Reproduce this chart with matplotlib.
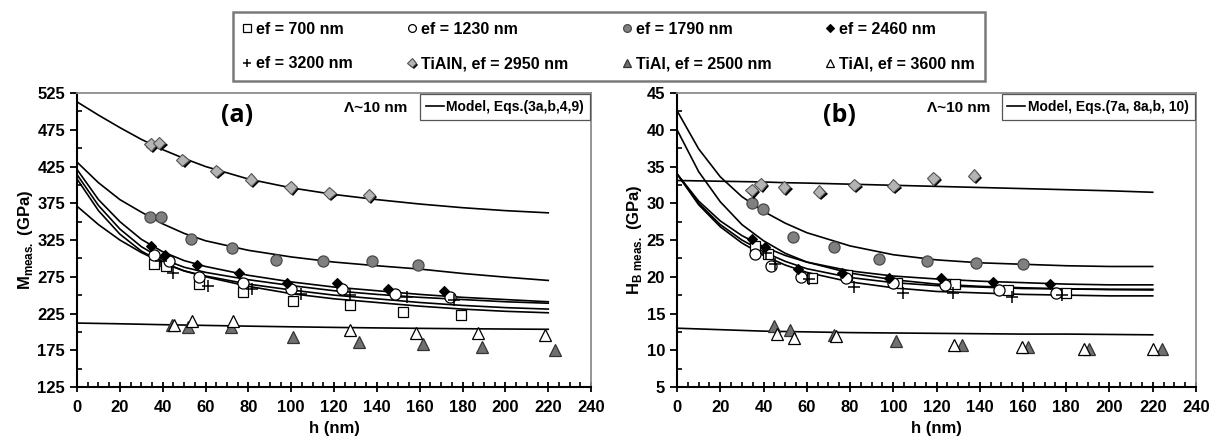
import matplotlib
matplotlib.use("Agg")
import matplotlib.pyplot as plt
import matplotlib.patheffects as pe
from matplotlib.lines import Line2D
from matplotlib.ticker import MultipleLocator, FixedLocator

plt.rcParams['font.family'] = ['Liberation Sans', 'DejaVu Sans']
plt.rcParams['font.weight'] = 'bold'
plt.rcParams['mathtext.fontset'] = 'custom'
plt.rcParams['mathtext.bf'] = 'Liberation Sans:bold'
plt.rcParams['mathtext.rm'] = 'Liberation Sans:bold'

# ---- data, panel (a): M_meas (GPa) vs h (nm) ----
a_sq_h = [35.8, 41.7, 56.9, 77.7, 100.6, 127.3, 152.2, 179.4]
a_sq_v = [293, 289, 265, 254, 242, 236, 227, 223]
a_oc_h = [35.8, 42.9, 56.9, 77.7, 99.8, 123.6, 148.4, 174.3]
a_oc_v = [305, 296, 275, 266, 258, 258, 251, 248]
a_gc_h = [34.0, 39.4, 53.0, 72.2, 92.9, 114.9, 137.5, 159.2]
a_gc_v = [357, 356, 326, 314, 298, 297, 297, 291]
a_bd_h = [34.5, 40.9, 56.1, 75.5, 97.8, 121.5, 145.3, 171.2]
a_bd_v = [317, 305, 291, 280, 267, 266, 258, 256]
a_pl_h = [39.4, 44.8, 61.0, 81.5, 104.5, 127.4, 154.0, 175.8]
a_pl_v = [297, 280, 263, 258, 252, 250, 247, 244]
a_td_h = [34.3, 38.3, 49.2, 65.0, 81.2, 99.8, 117.7, 136.3]
a_td_v = [455, 457, 434, 419, 407, 397, 389, 386]
a_gt_h = [44.5, 51.8, 72.0, 100.6, 131.6, 161.4, 189.0, 223.0]
a_gt_v = [209, 206, 206, 193.5, 186.7, 183.5, 179, 175]
a_wt_h = [45.1, 53.8, 72.7, 127.3, 158.3, 187.1, 218.7]
a_wt_v = [209.4, 214.7, 214.7, 202.5, 199, 199, 196]
a_yticks = [125, 175, 225, 275, 325, 375, 425, 475, 525]

# model curves, read at these h values
h_model = [0, 10, 20, 30, 40, 50, 60, 80, 100, 120, 140, 160, 180, 200, 220]
a_mod_tialn = [513, 495, 478, 462, 448, 436, 425, 408, 396, 387, 380, 374, 369, 365, 362]
a_mod_1790 = [431, 403, 380, 363, 347, 334, 324, 311, 302, 295, 290, 285.5, 279.5, 274.5, 270]
a_mod_2460 = [421, 380, 350, 326, 309, 297, 289, 277, 268, 261, 256, 251, 247, 244, 241]
a_mod_1230 = [414, 372, 340, 316, 299, 288, 281, 271, 263, 256, 251, 247, 244, 241, 239]
a_mod_3200 = [408, 365, 333, 310, 294, 283, 276, 265, 257, 250, 245, 240, 236, 233, 231]
a_mod_700 = [371, 346, 325, 308, 294, 283, 275, 262, 252, 245, 240, 235, 231, 228, 226]
a_mod_tial = [212, 211.5, 211, 210.4, 209.8, 209.3, 208.8, 207.8, 206.9, 206.1, 205.4, 204.8, 204.3, 203.9, 203.5]

# ---- data, panel (b): H_B meas (GPa) vs h (nm) ----
b_sq_h = [36.1, 42.2, 62.3, 78.8, 101.6, 128.6, 152.9, 180.0]
b_sq_v = [24.2, 23.1, 19.8, 20.3, 19.2, 19.0, 18.2, 17.85]
b_oc_h = [36.1, 43.3, 57.2, 78.1, 100.0, 123.9, 149.0, 175.3]
b_oc_v = [23.1, 21.4, 20.0, 19.8, 19.1, 18.9, 18.2, 17.8]
b_gc_h = [34.5, 39.9, 53.5, 72.6, 93.5, 115.7, 138.3, 160.2]
b_gc_v = [30.0, 29.2, 25.45, 24.0, 22.4, 22.1, 21.9, 21.7]
b_bd_h = [34.5, 40.7, 56.1, 76.1, 98.0, 121.9, 146.3, 172.5]
b_bd_v = [25.2, 24.1, 21.1, 20.5, 19.8, 19.9, 19.35, 19.0]
b_pl_h = [41.0, 45.3, 61.2, 82.0, 104.7, 127.5, 154.8, 177.9]
b_pl_v = [23.3, 21.7, 19.65, 18.65, 17.8, 17.85, 17.3, 17.5]
b_td_h = [34.5, 38.7, 49.5, 65.7, 82.0, 100.0, 118.5, 137.3]
b_td_v = [31.8, 32.6, 32.2, 31.6, 32.5, 32.4, 33.4, 33.75]
b_gt_h = [44.9, 52.3, 72.6, 101.3, 131.9, 162.5, 190.5, 224.4]
b_gt_v = [13.3, 12.7, 12.1, 11.2, 10.7, 10.4, 10.2, 10.2]
b_wt_h = [46.1, 54.1, 73.5, 128.0, 159.4, 188.2, 220.3]
b_wt_v = [12.2, 11.6, 11.95, 10.7, 10.4, 10.2, 10.2]
b_yticks = [5, 10, 15, 20, 25, 30, 35, 40, 45]

b_mod_tialn = [33.1, 33.05, 33.0, 32.95, 32.9, 32.8, 32.75, 32.6, 32.45, 32.3, 32.15, 32.0, 31.85, 31.7, 31.5]
b_mod_1790 = [42.6, 37.4, 33.6, 30.9, 28.9, 27.3, 26.0, 24.2, 23.0, 22.3, 21.9, 21.7, 21.5, 21.4, 21.4]
b_mod_2460 = [34.0, 30.3, 27.6, 25.6, 24.1, 22.9, 22.0, 20.8, 20.1, 19.7, 19.4, 19.2, 19.0, 18.9, 18.9]
b_mod_1230 = [34.0, 30.0, 27.1, 25.0, 23.4, 22.1, 21.1, 19.9, 19.2, 18.8, 18.6, 18.4, 18.35, 18.3, 18.3]
b_mod_3200 = [34.0, 29.8, 26.8, 24.6, 22.9, 21.6, 20.6, 19.3, 18.5, 18.0, 17.8, 17.6, 17.5, 17.4, 17.4]
b_mod_700 = [40.0, 34.3, 30.2, 27.1, 24.9, 23.2, 22.0, 20.5, 19.6, 19.0, 18.7, 18.5, 18.35, 18.25, 18.2]
b_mod_tial = [13.0, 12.9, 12.8, 12.7, 12.6, 12.55, 12.5, 12.4, 12.35, 12.3, 12.25, 12.2, 12.2, 12.15, 12.1]

legend_labels = ['ef = 700 nm', 'ef = 1230 nm', 'ef = 1790 nm', 'ef = 2460 nm',
                 'ef = 3200 nm', 'TiAlN, ef = 2950 nm', 'TiAl, ef = 2500 nm', 'TiAl, ef = 3600 nm']

shadow = [pe.SimplePatchShadow(offset=(1.5, -1.5), shadow_rgbFace='k', alpha=1.0), pe.Normal()]

# marker styles: square, open circle, grey circle, black diamond, plus, TiAlN, TiAl grey, TiAl open
styles = [
    dict(marker='s', mfc='white', mec='black', ms=7.5, mew=0.9),
    dict(marker='o', mfc='white', mec='black', ms=8, mew=0.9),
    dict(marker='o', mfc='#808080', mec='#4a4a4a', ms=8, mew=0.9),
    dict(marker='D', mfc='black', mec='black', ms=5.5, mew=0.8),
    dict(marker='+', mfc='none', mec='black', ms=8, mew=1.1),
    dict(marker='D', mfc='#b4b4b4', mec='#555555', ms=6.5, mew=0.8),
    dict(marker='^', mfc='#707070', mec='#333333', ms=8, mew=0.9),
    dict(marker='^', mfc='white', mec='black', ms=8, mew=0.9),
]


def draw_panel(ax, pts, models, ylim, yticks, ymin, ylabel, tag, model_label):
    for m in models:
        ax.plot(h_model, m, color='black', lw=1.2, zorder=2)
    for (h, v), st in zip(pts, styles):
        line, = ax.plot(h, v, ls='none', zorder=3, **st)
        if st['mfc'] == '#b4b4b4':
            line.set_path_effects(shadow)
    ax.set_xlim(0, 240)
    ax.set_ylim(*ylim)
    ax.xaxis.set_major_locator(MultipleLocator(20))
    ax.xaxis.set_minor_locator(MultipleLocator(5))
    ax.yaxis.set_major_locator(FixedLocator(yticks))
    ax.yaxis.set_minor_locator(MultipleLocator(ymin))
    ax.tick_params(axis='x', which='major', direction='inout', length=7, width=1.3, labelsize=12, pad=6)
    ax.tick_params(axis='x', which='minor', direction='in', length=3.5, width=1.2)
    ax.tick_params(axis='y', which='major', direction='out', length=5, width=1.3, labelsize=12)
    ax.tick_params(axis='y', which='minor', direction='in', length=3.5, width=1.2)
    for lab in ax.get_xticklabels() + ax.get_yticklabels():
        lab.set_fontweight('bold')
    ax.spines['left'].set_linewidth(1.5)
    ax.spines['bottom'].set_linewidth(1.5)
    for s in ('top', 'right'):
        ax.spines[s].set_color('#8c8c8c')
        ax.spines[s].set_linewidth(1.3)
    ax.set_xlabel('h (nm)', fontsize=12, fontweight='bold', labelpad=4)
    ax.set_ylabel(ylabel, fontsize=12, fontweight='bold', labelpad=2)
    ax.text(0.312, 0.925, tag, transform=ax.transAxes, ha='center', va='center',
            fontsize=18, fontweight='bold', family=['Open Sans', 'DejaVu Sans'])
    leg = ax.legend([Line2D([], [], color='black', lw=1.2)], [model_label],
                    loc='upper right', fontsize=10, handlelength=1.3, handletextpad=0.2,
                    borderaxespad=0.1, borderpad=0.4, fancybox=False, framealpha=1)
    leg.get_frame().set_edgecolor('#555555')
    leg.get_frame().set_linewidth(0.9)
    for t in leg.get_texts():
        t.set_fontweight('bold')
    return leg


fig = plt.figure(figsize=(12.21, 4.44), dpi=100)
ax1 = fig.add_axes([0.0631, 0.1284, 0.421, 0.662])
ax2 = fig.add_axes([0.5545, 0.1284, 0.425, 0.662])

pts_a = [(a_sq_h, a_sq_v), (a_oc_h, a_oc_v), (a_gc_h, a_gc_v), (a_bd_h, a_bd_v),
         (a_pl_h, a_pl_v), (a_td_h, a_td_v), (a_gt_h, a_gt_v), (a_wt_h, a_wt_v)]
mods_a = [a_mod_tialn, a_mod_1790, a_mod_2460, a_mod_1230, a_mod_3200, a_mod_700, a_mod_tial]
draw_panel(ax1, pts_a, mods_a, (125, 525), a_yticks, 25, r'M$_{\mathbf{meas.}}$ (GPa)', '(a)',
           'Model, Eqs.(3a,b,4,9)')
ax1.text(0.643, 0.949, '\u039b~10 nm', transform=ax1.transAxes,
         ha='right', va='center', fontsize=11, fontweight='bold')

pts_b = [(b_sq_h, b_sq_v), (b_oc_h, b_oc_v), (b_gc_h, b_gc_v), (b_bd_h, b_bd_v),
         (b_pl_h, b_pl_v), (b_td_h, b_td_v), (b_gt_h, b_gt_v), (b_wt_h, b_wt_v)]
mods_b = [b_mod_tialn, b_mod_1790, b_mod_2460, b_mod_1230, b_mod_3200, b_mod_700, b_mod_tial]
draw_panel(ax2, pts_b, mods_b, (5, 45), b_yticks, 2.5, r'H$_{\mathbf{B\ meas.}}$ (GPa)', '(b)',
           'Model, Eqs.(7a, 8a,b, 10)')
ax2.text(0.603, 0.949, '\u039b~10 nm', transform=ax2.transAxes,
         ha='right', va='center', fontsize=11, fontweight='bold')

# top legend (two rows of four)
handles = []
for st in styles:
    kw = dict(st)
    kw['ms'] = kw['ms'] * 0.7
    h = Line2D([], [], ls='none', **kw)
    if st['mfc'] == '#b4b4b4':
        h.set_path_effects(shadow)
    handles.append(h)
order = [0, 4, 1, 5, 2, 6, 3, 7]
leg = fig.legend([handles[i] for i in order], [legend_labels[i] for i in order],
                 ncol=4, loc='upper center', bbox_to_anchor=(0.4985, 0.99),
                 fontsize=11.5, handlelength=0.6, handletextpad=0.25, columnspacing=3.4,
                 labelspacing=1.2, borderpad=0.6, fancybox=False, framealpha=1)
leg.get_frame().set_edgecolor('#7a7a7a')
leg.get_frame().set_linewidth(1.8)
for t in leg.get_texts():
    t.set_fontweight('bold')

fig.savefig('out.png', dpi=100)
